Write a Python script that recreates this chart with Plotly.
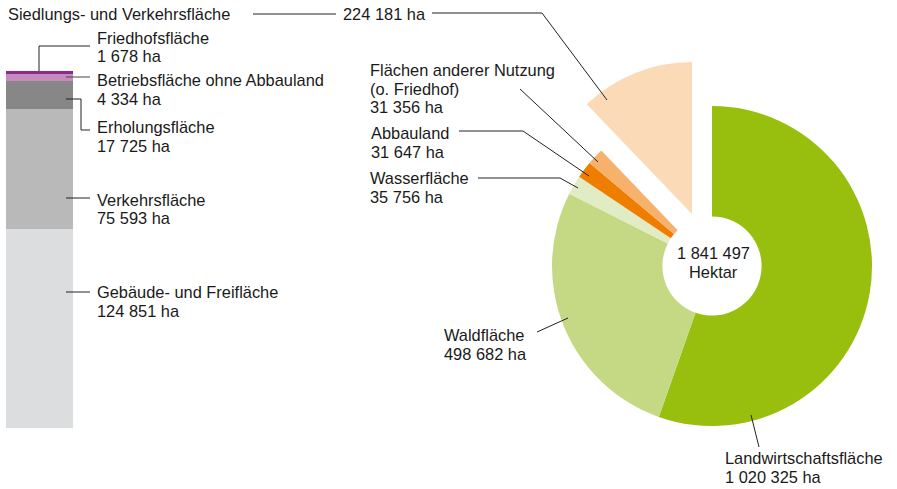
import plotly.graph_objects as go

W, H = 897, 489

# ---- data ----
bar_labels = ["Gebäude- und Freifläche", "Verkehrsfläche", "Erholungsfläche",
              "Betriebsfläche ohne Abbauland", "Friedhofsfläche"]
bar_values = [124851, 75593, 17725, 4334, 1678]
bar_colors = ["#dcdddf", "#b9b9b9", "#878787", "#c48bbf", "#93268f"]

pie_labels = ["Landwirtschaftsfläche", "Waldfläche", "Wasserfläche", "Abbauland",
              "Flächen anderer Nutzung<br>(o. Friedhof)", "Siedlungs- und Verkehrsfläche"]
pie_values = [1020325, 498682, 35756, 31647, 31356, 224181]
pie_colors = ["#98be0e", "#c5d985", "#e1ebc4", "#ef7d00", "#f6b16d", "#fbdab8"]
total_text = "1 841 497"
unit_text = "Hektar"


def fmt(v):
    return f"{v:,}".replace(",", " ") + " ha"


def px(x):
    return x / W


def py(y):
    return 1 - y / H


fig = go.Figure()

# stacked bar
for lab, val, col in zip(bar_labels, bar_values, bar_colors):
    fig.add_trace(go.Bar(x=[""], y=[val], name=lab, marker=dict(color=col, line=dict(width=0)),
                         width=1, hoverinfo="skip", showlegend=False))

# donut (pulled slice transparent here)
donut_cols = pie_colors[:-1] + ["rgba(0,0,0,0)"]
cx, cy, r = 712, 266, 160
fig.add_trace(go.Pie(values=pie_values, labels=pie_labels, sort=False, direction="clockwise",
                     rotation=0, hole=0.31, textinfo="none", hoverinfo="skip",
                     marker=dict(colors=donut_cols, line=dict(width=0)),
                     domain=dict(x=[px(cx - r), px(cx + r)], y=[py(cy + r), py(cy - r)]),
                     showlegend=False))

# pulled-out slice as separate full pie
pull_cols = ["rgba(0,0,0,0)"] * (len(pie_values) - 1) + [pie_colors[-1]]
pcx, pcy, pr = 692, 214, 152
fig.add_trace(go.Pie(values=pie_values, labels=pie_labels, sort=False, direction="clockwise",
                     rotation=0, textinfo="none", hoverinfo="skip",
                     marker=dict(colors=pull_cols, line=dict(width=0)),
                     domain=dict(x=[px(pcx - pr), px(pcx + pr)], y=[py(pcy + pr), py(pcy - pr)]),
                     showlegend=False))

FONT = dict(family="Liberation Sans, Arial, sans-serif", size=16.4, color="#1a1a1a")
annotations = []


def label(x, y, lines, anchor="left", dy=18.5):
    for i, t in enumerate(lines):
        annotations.append(dict(x=px(x), y=py(y + i * dy), xref="paper", yref="paper",
                                text=t, showarrow=False, xanchor=anchor, yanchor="middle",
                                font=FONT))


# bar labels
label(95, 38, [bar_labels[4], fmt(bar_values[4])])
label(95, 80, [bar_labels[3], fmt(bar_values[3])])
label(95, 127, [bar_labels[2], fmt(bar_values[2])])
label(95, 200, [bar_labels[1], fmt(bar_values[1])])
label(95, 292, [bar_labels[0], fmt(bar_values[0])])

# pie labels
label(6, 14, [pie_labels[5]])
label(341, 14, [fmt(pie_values[5])])
label(368, 70, pie_labels[4].split("<br>") + [fmt(pie_values[4])])
label(369, 133, [pie_labels[3], fmt(pie_values[3])])
label(368, 178, [pie_labels[2], fmt(pie_values[2])])
label(442, 335, [pie_labels[1], fmt(pie_values[1])])
label(723, 458, [pie_labels[0], fmt(pie_values[0])])
label(713, 253, [total_text, unit_text], anchor="center")

shapes = []


def poly(pts, color="#222222"):
    for (x0, y0), (x1, y1) in zip(pts[:-1], pts[1:]):
        shapes.append(dict(type="line", xref="paper", yref="paper",
                           x0=px(x0), y0=py(y0), x1=px(x1), y1=py(y1),
                           line=dict(color=color, width=1)))


poly([(253, 14), (336, 14)])
poly([(432, 13), (542, 13), (607, 100)])
poly([(520, 89), (598, 162)])
poly([(459, 131), (523, 131), (589, 176)])
poly([(478, 178), (560, 178), (578, 188)])
poly([(537, 332), (568, 318)])
poly([(751, 415), (759, 447)])
poly([(39, 71), (39, 46), (90, 46)])
poly([(66, 77), (90, 77)], color="#444444")
poly([(66, 99), (81, 99), (81, 130), (90, 130)])
poly([(66, 198), (90, 198)])
poly([(66, 292), (90, 292)])

fig.update_layout(
    width=W, height=H, margin=dict(l=0, r=0, t=0, b=0),
    paper_bgcolor="white", plot_bgcolor="white",
    barmode="stack",
    xaxis=dict(domain=[px(6), px(73)], range=[-0.5, 0.5], visible=False, fixedrange=True),
    yaxis=dict(domain=[py(428), py(71)], range=[0, sum(bar_values)], visible=False, fixedrange=True),
    annotations=annotations, shapes=shapes, showlegend=False,
)

fig.write_html("out.html", config={"displayModeBar": False},
               post_script="document.body.style.margin='0';document.body.style.overflow='hidden';")
